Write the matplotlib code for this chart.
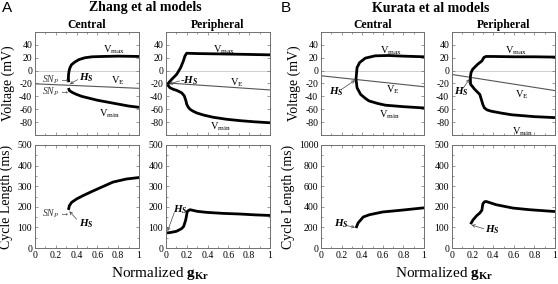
import matplotlib
matplotlib.use("Agg")
import matplotlib.pyplot as plt
from matplotlib.ticker import MultipleLocator
import numpy as np

plt.rcParams['font.family'] = ['Liberation Serif', 'DejaVu Serif']
plt.rcParams['mathtext.fontset'] = 'custom'
plt.rcParams['mathtext.rm'] = 'Liberation Serif'
plt.rcParams['mathtext.it'] = 'Liberation Serif:italic'
plt.rcParams['mathtext.bf'] = 'Liberation Serif:bold:italic'
plt.rcParams['mathtext.sf'] = 'Liberation Serif:bold'
plt.rcParams['axes.unicode_minus'] = False

# ---------------- data ----------------
# Zhang central, voltage
zc_vmax_x = [0.325, 0.321, 0.322, 0.327, 0.335, 0.35, 0.38, 0.42, 0.48, 0.55, 0.65, 0.8, 1.0]
zc_vmax_v = [-18, -13, -7, -1, 4, 9, 13, 17, 20, 21.5, 22, 22.5, 22]
zc_vmin_x = [0.322, 0.33, 0.36, 0.4, 0.45, 0.5, 0.6, 0.7, 0.8, 0.9, 1.0]
zc_vmin_v = [-27, -31, -34, -37, -40, -42, -46, -49, -52, -55, -57]
zc_ve_x = [0.0, 1.0]
zc_ve_v = [-20.5, -27.5]

# Zhang peripheral, voltage
zp_vmax_x = [0.015, 0.03, 0.055, 0.103, 0.141, 0.167, 0.183, 0.199, 0.3, 0.5, 0.75, 1.0]
zp_vmax_v = [-22, -18, -13.5, -5.7, 4.7, 15, 23, 27, 26.5, 26, 25.3, 24.5]
zp_vmin_x = [0.015, 0.038, 0.07, 0.103, 0.15, 0.175, 0.19, 0.2, 0.215, 0.231,
             0.26, 0.295, 0.36, 0.455, 0.58, 0.71, 0.85, 1.0]
zp_vmin_v = [-22, -26.6, -29, -30.7, -34.4, -39, -46, -52.6, -57, -60,
             -63, -65.7, -69, -72.5, -75.5, -77.7, -79.5, -81]
zp_ve_x = [0.0, 1.0]
zp_ve_v = [-19, -30]

# Kurata central, voltage
kc_vmax_x = [0.34, 0.345, 0.35, 0.375, 0.43, 0.526, 0.655, 0.8, 1.0]
kc_vmax_v = [-13.5, -4, 4.7, 12.5, 19.4, 23, 23.5, 22.5, 21.5]
kc_vmin_x = [0.34, 0.345, 0.35, 0.385, 0.43, 0.465, 0.55, 0.625, 0.8, 1.0]
kc_vmin_v = [-13.5, -20, -26.6, -37, -43, -47, -51, -53.7, -56, -58]
kc_ve_x = [0.0, 1.0]
kc_ve_v = [-8, -25]

# Kurata peripheral, voltage
kp_vmax_x = [0.178, 0.185, 0.2, 0.25, 0.29, 0.31, 0.33, 0.4, 0.6, 0.8, 1.0]
kp_vmax_v = [-10.5, -3, 2, 10, 15, 20.5, 22, 22, 21.5, 21.5, 21]
kp_vmin_x = [0.178, 0.18, 0.22, 0.27, 0.29, 0.3, 0.315, 0.34, 0.38, 0.48, 0.58, 0.8, 1.0]
kp_vmin_v = [-10.5, -21, -29, -37, -47.5, -53, -58, -61, -63, -66, -68.6, -71.5, -73]
kp_ve_x = [0.0, 1.0]
kp_ve_v = [-6, -31]

# Cycle lengths
zc_cl_x = [0.32, 0.325, 0.33, 0.353, 0.4, 0.465, 0.55, 0.625, 0.75, 0.88, 1.0]
zc_cl_y = [185, 192, 205, 222, 238, 255, 275, 292, 320, 335, 342]
zp_cl_x = [0.01, 0.05, 0.1, 0.15, 0.17, 0.19, 0.2, 0.205, 0.23, 0.3, 0.39, 0.55, 0.71, 0.85, 1.0]
zp_cl_y = [73, 76, 81, 94, 105, 137, 165, 178, 186, 178, 173, 168, 165, 161, 158]
kc_cl_x = [0.34, 0.36, 0.41, 0.47, 0.6, 0.76, 1.0]
kc_cl_y = [194, 243, 301, 323, 350, 365, 390]
kp_cl_x = [0.18, 0.205, 0.24, 0.27, 0.29, 0.295, 0.3, 0.315, 0.33, 0.43, 0.59, 0.75, 1.0]
kp_cl_y = [116, 137, 157, 170, 183, 200, 215, 224, 226, 210, 194, 186, 177]

x_ticks = [0, 0.2, 0.4, 0.6, 0.8, 1]
x_ticklabels = ['0', '0.2', '0.4', '0.6', '0.8', '1']
v_ticks = [40, 20, 0, -20, -40, -60, -80]

# ---------------- layout ----------------
W, H = 558, 284
fig = plt.figure(figsize=(W / 100, H / 100), dpi=100)

def box(l, t, r, b):
    return [l / W, 1 - b / H, (r - l) / W, (b - t) / H]

cols = [(35, 139), (166, 270), (321, 424), (452, 555)]
top_row = (32, 135)
bot_row = (145, 248)

SPINE = '#707070'
TICKFS = 7

def style(ax, ylim, ymajor, yminor, xlabels):
    ax.set_xlim(0, 1)
    ax.set_ylim(*ylim)
    ax.xaxis.set_major_locator(MultipleLocator(0.2))
    ax.xaxis.set_minor_locator(MultipleLocator(0.1))
    ax.yaxis.set_major_locator(MultipleLocator(ymajor))
    ax.yaxis.set_minor_locator(MultipleLocator(yminor))
    ax.tick_params(which='both', direction='in', top=True, right=True,
                   color=SPINE, labelsize=TICKFS, pad=2)
    ax.tick_params(which='major', length=2.5, width=0.5)
    ax.tick_params(which='minor', length=1.5, width=0.5)
    for s in ax.spines.values():
        s.set_color(SPINE)
        s.set_linewidth(0.7)
    if xlabels:
        ax.set_xticks(x_ticks)
        ax.set_xticklabels(x_ticklabels)
    else:
        ax.set_xticklabels([])

LW = 2.0
def vpanel(ax, vmax_x, vmax_v, vmin_x, vmin_v, ve_x, ve_v):
    ax.axhline(0, color='#c8c8c8', lw=0.6, zorder=1)
    ax.plot(ve_x, ve_v, color='#555555', lw=0.8, zorder=2)
    ax.plot(vmax_x, vmax_v, color='black', lw=LW, zorder=3, solid_capstyle='butt')
    ax.plot(vmin_x, vmin_v, color='black', lw=LW, zorder=3, solid_capstyle='butt')
    style(ax, (-100, 60), 20, 20, False)
    ax.set_yticks(v_ticks)
    ax.set_yticklabels([str(t) for t in v_ticks])

def clpanel(ax, x, y, ymax):
    ax.plot(x, y, color='black', lw=LW, zorder=3, solid_capstyle='butt')
    if ymax == 1000:
        style(ax, (0, 1000), 200, 100, True)
    else:
        style(ax, (0, 500), 100, 50, True)

LBL = 7.5
ARROW = dict(arrowstyle='->', lw=0.5, color='#444444', shrinkA=0, shrinkB=0,
             mutation_scale=5)
HS = r'$\mathbf{H_S}$'
SN = r'$\mathit{SN_P}$'
YLFS = 10

def vlabels(ax, pmax, pe, pmin):
    ax.text(*pmax, r'$\mathrm{V_{max}}$', fontsize=LBL, ha='left', va='center')
    ax.text(*pe, r'$\mathrm{V_E}$', fontsize=LBL, ha='left', va='center')
    ax.text(*pmin, r'$\mathrm{V_{min}}$', fontsize=LBL, ha='left', va='center')

# Panel A - Zhang central voltage
ax = fig.add_axes(box(cols[0][0], top_row[0], cols[0][1], top_row[1]))
vpanel(ax, zc_vmax_x, zc_vmax_v, zc_vmin_x, zc_vmin_v, zc_ve_x, zc_ve_v)
vlabels(ax, (0.65, 32), (0.73, -16), (0.62, -67))
ax.annotate(SN + r'$\rightarrow$', xy=(0.31, -14), xytext=(0.07, -14), fontsize=7,
            ha='left', va='center', color='#333333')
ax.annotate(SN + r'$\rightarrow$', xy=(0.31, -30), xytext=(0.07, -33), fontsize=7,
            ha='left', va='center', color='#333333')
ax.annotate('', xy=(0.335, -21), xytext=(0.41, -14), arrowprops=ARROW)
ax.text(0.42, -11, HS, fontsize=8, ha='left', va='center')
ax.set_ylabel('Voltage (mV)', fontsize=YLFS, labelpad=3)
ax.set_title('Central', fontsize=8.5, fontweight='bold', pad=3)

# Zhang peripheral voltage
ax = fig.add_axes(box(cols[1][0], top_row[0], cols[1][1], top_row[1]))
vpanel(ax, zp_vmax_x, zp_vmax_v, zp_vmin_x, zp_vmin_v, zp_ve_x, zp_ve_v)
vlabels(ax, (0.45, 33), (0.62, -19), (0.42, -87))
ax.annotate('', xy=(0.03, -21), xytext=(0.13, -16), arrowprops=ARROW)
ax.text(0.13, -15, r'-' + HS, fontsize=8, ha='left', va='center')
ax.set_title('Peripheral', fontsize=8.5, fontweight='bold', pad=3)

# Kurata central voltage
ax = fig.add_axes(box(cols[2][0], top_row[0], cols[2][1], top_row[1]))
vpanel(ax, kc_vmax_x, kc_vmax_v, kc_vmin_x, kc_vmin_v, kc_ve_x, kc_ve_v)
vlabels(ax, (0.57, 31), (0.63, -29), (0.56, -68))
ax.annotate('', xy=(0.33, -15), xytext=(0.2, -29), arrowprops=ARROW)
ax.text(0.08, -33, HS, fontsize=8, ha='left', va='center')
ax.set_ylabel('Voltage (mV)', fontsize=YLFS, labelpad=3)
ax.set_title('Central', fontsize=8.5, fontweight='bold', pad=3)

# Kurata peripheral voltage
ax = fig.add_axes(box(cols[3][0], top_row[0], cols[3][1], top_row[1]))
vpanel(ax, kp_vmax_x, kp_vmax_v, kp_vmin_x, kp_vmin_v, kp_ve_x, kp_ve_v)
vlabels(ax, (0.51, 31), (0.61, -38), (0.58, -95))
ax.annotate('', xy=(0.17, -13), xytext=(0.11, -27), arrowprops=ARROW)
ax.text(0.02, -33, HS, fontsize=8, ha='left', va='center')
ax.set_title('Peripheral', fontsize=8.5, fontweight='bold', pad=3)

# Zhang central CL
ax = fig.add_axes(box(cols[0][0], bot_row[0], cols[0][1], bot_row[1]))
clpanel(ax, zc_cl_x, zc_cl_y, 500)
ax.annotate(SN + r'$\rightarrow$', xy=(0.31, 188), xytext=(0.07, 168), fontsize=7,
            ha='left', va='center', color='#333333')
ax.annotate('', xy=(0.33, 178), xytext=(0.4, 140), arrowprops=ARROW)
ax.text(0.42, 118, HS, fontsize=8, ha='left', va='center')
ax.set_ylabel('Cycle Length (ms)', fontsize=YLFS, labelpad=3)

# Zhang peripheral CL
ax = fig.add_axes(box(cols[1][0], bot_row[0], cols[1][1], bot_row[1]))
clpanel(ax, zp_cl_x, zp_cl_y, 500)
ax.annotate('', xy=(0.015, 82), xytext=(0.08, 172), arrowprops=ARROW)
ax.text(0.07, 186, HS, fontsize=8, ha='left', va='center')

# Kurata central CL
ax = fig.add_axes(box(cols[2][0], bot_row[0], cols[2][1], bot_row[1]))
clpanel(ax, kc_cl_x, kc_cl_y, 1000)
ax.annotate('', xy=(0.33, 200), xytext=(0.24, 220), arrowprops=ARROW)
ax.text(0.13, 235, HS, fontsize=8, ha='left', va='center')
ax.set_ylabel('Cycle Length (ms)', fontsize=YLFS, labelpad=3)

# Kurata peripheral CL
ax = fig.add_axes(box(cols[3][0], bot_row[0], cols[3][1], bot_row[1]))
clpanel(ax, kp_cl_x, kp_cl_y, 500)
ax.annotate('', xy=(0.19, 112), xytext=(0.31, 93), arrowprops=ARROW)
ax.text(0.32, 88, HS, fontsize=8, ha='left', va='center')

# Titles and labels
fig.text(145 / W, 1 - 8 / H, 'Zhang et al models', fontsize=10, fontweight='bold',
         ha='center', va='center')
fig.text(431 / W, 1 - 8 / H, 'Kurata et al models', fontsize=10, fontweight='bold',
         ha='center', va='center')
fig.text(2 / W, 1 - 8 / H, 'A', fontsize=11, family=['Liberation Sans', 'DejaVu Sans'],
         ha='left', va='center')
fig.text(281 / W, 1 - 8 / H, 'B', fontsize=11, family=['Liberation Sans', 'DejaVu Sans'],
         ha='left', va='center')
fig.text(160 / W, 1 - 273 / H, r'Normalized $\mathsf{g_{Kr}}$', fontsize=11,
         ha='center', va='center')
fig.text(444 / W, 1 - 273 / H, r'Normalized $\mathsf{g_{Kr}}$', fontsize=11,
         ha='center', va='center')

fig.savefig('out.png', dpi=100)
